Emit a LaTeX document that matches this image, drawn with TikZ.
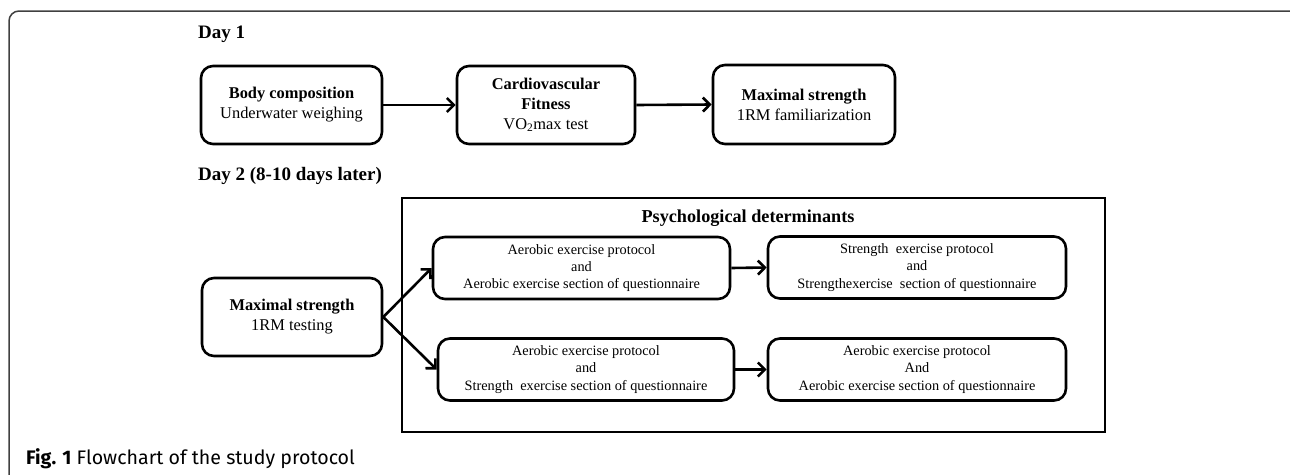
\documentclass[tikz,border=0pt]{standalone}
\usepackage{fontspec}
\setmainfont{Liberation Serif}
\newfontfamily\capfont{Fira Sans}
\usetikzlibrary{arrows.meta}
\tikzset{
  stepbox/.style={draw=black, line width=2.6pt, rounded corners=12pt, align=center,
    inner sep=0pt, font=\fontsize{16.4}{20}\selectfont},
  innerbox/.style={draw=black, line width=2.6pt, rounded corners=12pt, align=center,
    inner sep=0pt, minimum width=297pt, minimum height=62pt, font=\fontsize{14.3}{17.3}\selectfont},
  conn/.style={line width=2.6pt, -{Straight Barb[length=7pt,width=14pt,line width=2.6pt]}},
  daylabel/.style={anchor=west, inner sep=0pt, font=\fontsize{19}{22}\selectfont\bfseries},
}
\begin{document}
\begin{tikzpicture}[x=1pt,y=-1pt]
\useasboundingbox (0,0) rectangle (1290,474);
% outer frame
\draw[black!75, line width=1.5pt, rounded corners=10pt] (9,490) -- (9,11) -- (1299,11) -- (1299,490);

\node[daylabel] (d1) at (198,34) {Day 1};
\node[daylabel] (d2) at (198,176) {Day 2 (8-10 days later)};

\node[stepbox, minimum width=181pt, minimum height=78pt] (b1) at (291.5,105)
  {\textbf{Body composition}\\Underwater weighing};
\node[stepbox, minimum width=178pt, minimum height=78pt] (b2) at (546,105)
  {\textbf{Cardiovascular}\\\textbf{Fitness}\\VO\textsubscript{2}max test};
\node[stepbox, minimum width=182pt, minimum height=79pt] (b3) at (804,104.5)
  {\textbf{Maximal strength}\\1RM familiarization};

\draw[conn] (b1.east) -- (b2.west);
\draw[conn] (b2.east) -- (b3.west);

\node[draw=black, line width=2.6pt, minimum width=703pt, minimum height=234pt, inner sep=0pt] (big) at (753.5,315) {};
\node[inner sep=0pt, font=\fontsize{18.2}{21}\selectfont\bfseries] (pt) at (748,218) {Psychological determinants};

\node[stepbox, minimum width=180pt, minimum height=78pt] (ms) at (292,317)
  {\textbf{Maximal strength}\\1RM testing};

\node[innerbox] (a1) at (581.5,268)
  {Aerobic exercise protocol\\and\\Aerobic exercise section of questionnaire};
\node[innerbox, minimum width=298pt] (a2) at (917,267.5)
  {Strength\ \ exercise protocol\\and\\Strengthexercise\ \ section of questionnaire};
\node[innerbox, minimum width=296pt] (a3) at (586,369.5)
  {Aerobic exercise protocol\\and\\Strength\ \ exercise section of questionnaire};
\node[innerbox, minimum width=298pt] (a4) at (917,369.5)
  {Aerobic exercise protocol\\And\\Aerobic exercise section of questionnaire};

\draw[conn] (ms.east) -- (a1.west);
\draw[conn] (ms.east) -- (a3.west);
\draw[conn] (a1.east) -- (a2.west);
\draw[conn] (a3.east) -- (a4.west);

\node[anchor=west, inner sep=0pt, font=\capfont\fontsize{19.6}{22}\selectfont] (cap) at (26,459)
  {\textbf{Fig. 1} Flowchart of the study protocol};
\end{tikzpicture}
\end{document}
